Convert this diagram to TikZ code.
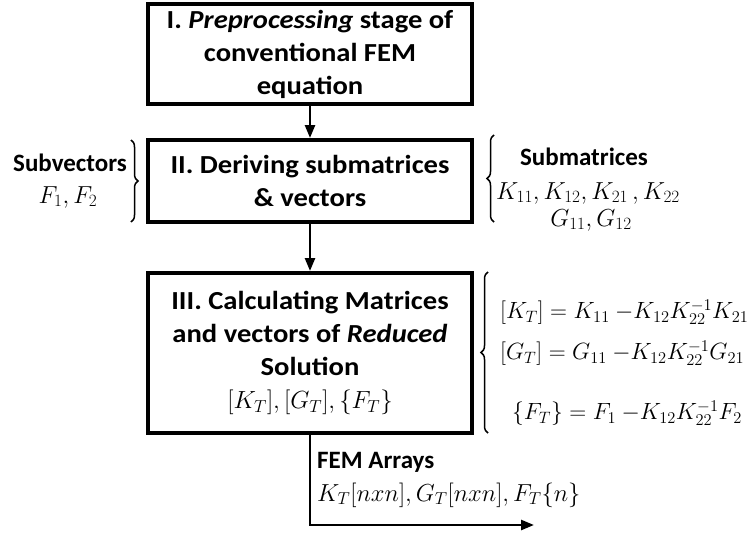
\RequirePackage{fix-cm}
\documentclass[tikz,border=0pt]{standalone}
\usepackage{fontspec}
\setmainfont{Carlito}
\newfontfamily\boxfont{Carlito}[FakeStretch=1.1]
\usetikzlibrary{arrows.meta,decorations.pathreplacing}
\begin{document}
\begin{tikzpicture}[x=1pt,y=-1pt,
  box/.style={draw,line width=4pt,minimum width=324pt,align=center,inner sep=0pt,font=\boxfont\fontsize{26}{33}\selectfont\bfseries},
  flow/.style={line width=2.5pt,-{Triangle[length=13pt,width=10pt]}},
  lbl/.style={font=\fontsize{25}{30}\selectfont\bfseries,inner sep=0pt},
  mth/.style={font=\fontsize{24.6}{30}\selectfont,inner sep=0pt},
  eqn/.style={font=\fontsize{23.5}{30}\selectfont,inner sep=0pt,anchor=west},
  brc/.style={decorate,decoration={brace,amplitude=7pt},line width=1.5pt}]
\useasboundingbox (0,0) rectangle (751,535);
% boxes
\node[box,minimum height=100pt] (b1) at (310,54) {I. \textit{Preprocessing} stage of\\conventional FEM\\equation};
\node[box,minimum height=82pt] (b2) at (310,181) {II. Deriving submatrices\\\& vectors};
\node[box,minimum height=160pt] (b3) at (310,353) {III. Calculating Matrices\\and vectors of \textit{Reduced}\\Solution\\{\mdseries\fontsize{24.8}{36}\selectfont$[K_T],[G_T],\{F_T\}$}};
% flow
\draw[flow] (b1.south) -- (b2.north);
\draw[flow] (b2.south) -- (b3.north);
\coordinate (turn) at (b3.south |- 0,525);
\coordinate (out) at (534,525);
\draw[flow] (b3.south) -- (turn) -- (out);
\node[lbl,anchor=west] (fem) at (317,462) {FEM Arrays};
\node[mth,anchor=west] (arr) at (317,495) {$K_T[nxn], G_T[nxn], F_T\{n\}$};
% left brace
\coordinate (lb1) at (131,140);
\coordinate (lb2) at (131,222);
\draw[brc] (lb1) -- (lb2);
\node[lbl] (subv) at (70,163) {Subvectors};
\node[mth] (fvec) at (68,197) {$F_1, F_2$};
% right brace submatrices
\coordinate (rb1) at (494,222);
\coordinate (rb2) at (494,135);
\draw[brc] (rb1) -- (rb2);
\node[lbl] (subm) at (584,157) {Submatrices};
\node[mth] (kl) at (588,193) {$K_{11}, K_{12}, K_{21}\,, K_{22}$};
\node[mth] (gl) at (591,220) {$G_{11}, G_{12}$};
% right brace formulas
\coordinate (fb1) at (488,433);
\coordinate (fb2) at (488,272);
\draw[brc] (fb1) -- (fb2);
\node[eqn] (e1) at (500,312) {$[K_T] = K_{11}\ {-}K_{12}K_{22}^{-1}K_{21}$};
\node[eqn] (e2) at (500,353) {$[G_T] = G_{11}\ {-}K_{12}K_{22}^{-1}G_{21}$};
\node[eqn] (e3) at (512,413) {$\{F_T\} = F_1\ {-}K_{12}K_{22}^{-1}F_2$};
\end{tikzpicture}
\end{document}
